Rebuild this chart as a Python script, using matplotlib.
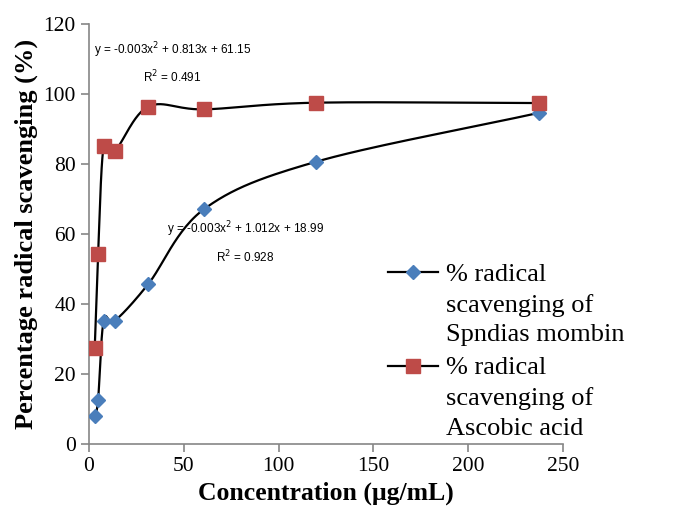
import numpy as np
import matplotlib.pyplot as plt
from matplotlib import font_manager
from matplotlib.lines import Line2D
from matplotlib.legend_handler import HandlerLine2D

# data
conc = [1, 2.5, 5, 10, 25, 50, 100, 200]
spondias = [8.2, 12.7, 35.3, 35.3, 45.8, 67.2, 80.7, 94.7]
ascorbic = [27.5, 54.4, 85.2, 83.8, 96.5, 95.7, 97.6, 97.5]
labels = ['% radical\nscavenging of\nSpndias mombin',
          '% radical\nscavenging of\nAscobic acid']
eq_spondias = 'y = -0.003x$^2$ + 1.012x + 18.99\nR$^2$ = 0.928'
eq_ascorbic = 'y = -0.003x$^2$ + 0.813x + 61.15\nR$^2$ = 0.491'
xticks = [0, 50, 100, 150, 200, 250]
yticks = [0, 20, 40, 60, 80, 100, 120]


def smooth(x, y, n=30):
    # Catmull-Rom style smoothing, like the spreadsheet "smoothed line"
    x = np.asarray(x, float)
    y = np.asarray(y, float)
    px = np.concatenate([[2 * x[0] - x[1]], x, [2 * x[-1] - x[-2]]])
    py = np.concatenate([[2 * y[0] - y[1]], y, [2 * y[-1] - y[-2]]])
    xs, ys = [], []
    for i in range(1, len(px) - 2):
        p0, p1, p2, p3 = (np.array([px[j], py[j]]) for j in range(i - 1, i + 3))
        c1 = p1 + (p2 - p0) / 6.0
        c2 = p2 - (p3 - p1) / 6.0
        for tt in np.linspace(0, 1, n):
            b = ((1 - tt) ** 3) * p1 + 3 * ((1 - tt) ** 2) * tt * c1 + \
                3 * (1 - tt) * tt ** 2 * c2 + tt ** 3 * p2
            xs.append(b[0])
            ys.append(b[1])
    return xs, ys


class TopHandler(HandlerLine2D):
    # put the legend symbol next to the first line of a wrapped label
    def __init__(self, shift, **kw):
        super().__init__(**kw)
        self.shift = shift

    def create_artists(self, *args, **kw):
        arts = super().create_artists(*args, **kw)
        for a in arts:
            a.set_ydata(np.asarray(a.get_ydata(), float) + self.shift)
        return arts


serif = ['Liberation Serif', 'DejaVu Serif']
installed = {f.name for f in font_manager.fontManager.ttflist}
if 'Liberation Sans Narrow' in installed:
    narrow, eq_size = ['Liberation Sans Narrow', 'DejaVu Sans'], 11
else:
    narrow, eq_size = ['Liberation Sans', 'DejaVu Sans'], 8.5

fig = plt.figure(figsize=(6.74, 5.08), dpi=100)
ax = fig.add_axes([89 / 674, 63.7 / 508, 474 / 674, 420 / 508])

# the markers in the original sit on a slightly different x scale than the ticks
dax = ax.twiny()
dax.set_xlim(-1.57, 210.8)
dax.axis('off')

blue = '#4a7ebb'
red = '#be4b48'

for ys, col, mk, ms in [(spondias, blue, 'D', 7), (ascorbic, red, 's', 9.5)]:
    sx, sy = smooth(conc, ys)
    dax.plot(sx, sy, color='black', lw=1.6, zorder=2)
    dax.plot(conc, ys, ls='none', marker=mk, ms=ms, color=col,
             markeredgecolor=col, zorder=3)

ax.set_xlim(0, 250)
ax.set_ylim(0, 120)
ax.set_xticks(xticks)
ax.set_yticks(yticks)
for s in ['top', 'right']:
    ax.spines[s].set_visible(False)
for s in ['left', 'bottom']:
    ax.spines[s].set_color('#868686')
    ax.spines[s].set_linewidth(1.2)
ax.tick_params(colors='#868686', length=6, width=1.2, labelsize=15.5,
               labelcolor='black')
for lab in ax.get_xticklabels() + ax.get_yticklabels():
    lab.set_family(serif)

ax.set_xlabel('Concentration (μg/mL)', family=serif, fontsize=18.5,
              fontweight='bold', labelpad=4)
ax.set_ylabel('Percentage radical scavenging (%)', family=serif,
              fontsize=19, fontweight='bold', labelpad=4)

ax.text(44, 109, eq_ascorbic, family=narrow, fontsize=eq_size, ha='center',
        va='center', linespacing=1.7, multialignment='center')
ax.text(82.5, 57.8, eq_spondias, family=narrow, fontsize=eq_size, ha='center',
        va='center', linespacing=1.7, multialignment='center')

handles = [Line2D([], [], color='black', lw=1.6, marker='D', ms=7,
                  markerfacecolor=blue, markeredgecolor=blue),
           Line2D([], [], color='black', lw=1.6, marker='s', ms=9.5,
                  markerfacecolor=red, markeredgecolor=red)]
leg = ax.legend(handles, labels, loc='upper left', bbox_to_anchor=(0.631, 0.43),
                frameon=False, prop={'family': serif, 'size': 19},
                handlelength=1.9, handletextpad=0.3, labelspacing=0.4,
                borderpad=0, borderaxespad=0,
                handler_map={Line2D: TopHandler(23)})
for t in leg.get_texts():
    t.set_linespacing(1.45)

fig.savefig('out.png', dpi=100)
